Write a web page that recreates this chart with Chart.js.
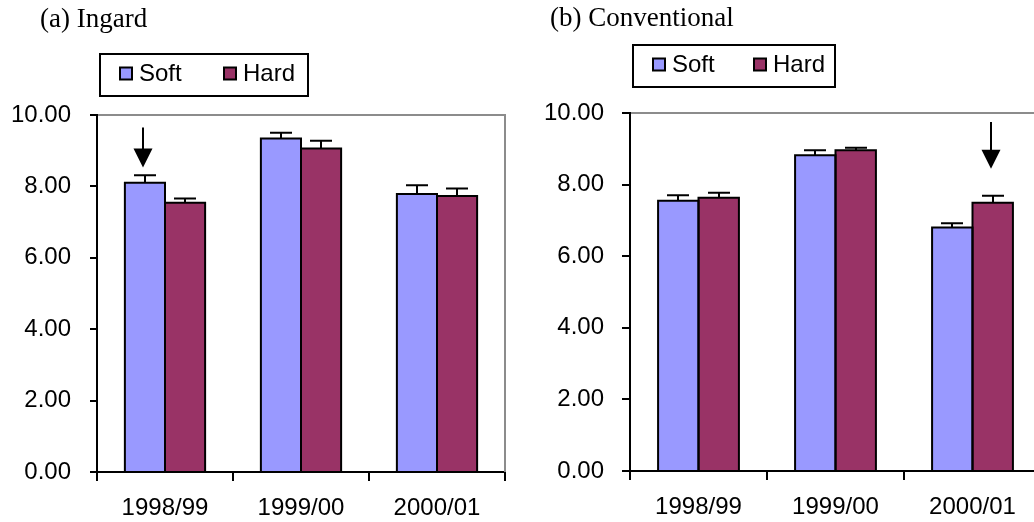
<!DOCTYPE html>
<html>
<head>
<meta charset="utf-8">
<script src="https://cdn.jsdelivr.net/npm/chart.js@4.4.1/dist/chart.umd.min.js"></script>
<style>
  html, body { margin: 0; padding: 0; background: #fff; overflow: hidden; width: 1034px; height: 522px; position: relative; }
  .panel { position: absolute; top: 0; height: 522px; }
  #panelA { left: 0; width: 517px; }
  #panelB { left: 517px; width: 540px; }
</style>
</head>
<body>
<div class="panel" id="panelA"><canvas id="ingard"></canvas></div>
<div class="panel" id="panelB"><canvas id="conventional"></canvas></div>
<script>
// Seasons on the category axis
const seasons = ['1998/99', '1999/00', '2000/01'];
const seriesNames = ['Soft', 'Hard'];

// (a) Ingard: means and standard errors
const ingardSoft = [8.10, 9.34, 7.79];
const ingardHard = [7.54, 9.06, 7.73];
const ingardSoftErr = [0.21, 0.16, 0.24];
const ingardHardErr = [0.12, 0.22, 0.21];

// (b) Conventional: means and standard errors
const convSoft = [7.55, 8.82, 6.80];
const convHard = [7.63, 8.96, 7.49];
const convSoftErr = [0.15, 0.14, 0.12];
const convHardErr = [0.14, 0.07, 0.20];

// Value axis
const yMin = 0;
const yMax = 10;
const yStep = 2;

// Arrows marking a bar: series index, season index, top and tip values
const ingardArrows = [{ series: 0, season: 0, from: 9.65, to: 8.53 }];
const convArrows = [{ series: 1, season: 2, from: 9.75, to: 8.44 }];

const SOFT_COLOR = '#9999FF';
const HARD_COLOR = '#993366';
const SANS = '"Liberation Sans", Arial, sans-serif';
const SERIF = '"Liberation Serif", "Times New Roman", serif';

// Draws the panel frame, bar outlines, error bars, arrows, the boxed legend and the panel title
const panelDecor = {
  id: 'panelDecor',
  beforeDatasetsDraw(chart, args, opts) {
    const { ctx, chartArea: a } = chart;
    ctx.save();
    ctx.strokeStyle = '#8c8c8c';
    ctx.lineWidth = 2;
    ctx.beginPath();
    ctx.moveTo(a.left + 1, a.top);
    ctx.lineTo(a.right, a.top);
    if (opts.frameRight) ctx.lineTo(a.right, a.bottom);
    ctx.stroke();
    ctx.restore();
  },
  afterDatasetsDraw(chart) {
    const { ctx } = chart;
    const yScale = chart.scales.y;
    ctx.save();
    ctx.strokeStyle = '#000';
    ctx.lineWidth = 2;
    chart.data.datasets.forEach((ds, di) => {
      const meta = chart.getDatasetMeta(di);
      meta.data.forEach((bar, i) => {
        // outline of the bar, centred on its edges
        const l = bar.x - bar.width / 2;
        const r = bar.x + bar.width / 2;
        ctx.beginPath();
        ctx.moveTo(l, bar.base);
        ctx.lineTo(l, bar.y);
        ctx.lineTo(r, bar.y);
        ctx.lineTo(r, bar.base);
        ctx.stroke();
        // upper error bar with cap
        const yTop = yScale.getPixelForValue(ds.data[i] + ds.errors[i]);
        const x = Math.round(bar.x);
        ctx.beginPath();
        ctx.moveTo(x, bar.y);
        ctx.lineTo(x, yTop);
        ctx.moveTo(x - 11, yTop);
        ctx.lineTo(x + 11, yTop);
        ctx.stroke();
      });
    });
    ctx.restore();
  },
  afterDraw(chart, args, opts) {
    const { ctx } = chart;
    const yScale = chart.scales.y;
    ctx.save();

    // arrows
    (opts.arrows || []).forEach(ar => {
      const bar = chart.getDatasetMeta(ar.series).data[ar.season];
      const x = Math.round(bar.x) - 2;
      const yFrom = yScale.getPixelForValue(ar.from);
      const yTip = yScale.getPixelForValue(ar.to);
      const head = 19;
      ctx.strokeStyle = '#000';
      ctx.fillStyle = '#000';
      ctx.lineWidth = 2;
      ctx.beginPath();
      ctx.moveTo(x, yFrom);
      ctx.lineTo(x, yTip - head + 1);
      ctx.stroke();
      ctx.beginPath();
      ctx.moveTo(x - head / 2, yTip - head);
      ctx.lineTo(x + head / 2, yTip - head);
      ctx.lineTo(x, yTip);
      ctx.closePath();
      ctx.fill();
    });

    // boxed legend
    const lg = opts.legend;
    ctx.strokeStyle = '#000';
    ctx.lineWidth = 2;
    ctx.strokeRect(lg.x + 1, lg.y + 1, lg.w - 2, lg.h - 2);
    const mid = lg.y + lg.h / 2;
    ctx.font = '24px ' + SANS;
    ctx.textBaseline = 'alphabetic';
    ctx.textAlign = 'left';
    chart.data.datasets.forEach((ds, di) => {
      const bx = lg.x + lg.itemX[di];
      ctx.fillStyle = ds.backgroundColor;
      ctx.fillRect(bx + 1, mid - 7.5, 12, 12);
      ctx.strokeStyle = '#000';
      ctx.strokeRect(bx + 1, mid - 7.5, 12, 12);
      ctx.fillStyle = '#000';
      ctx.fillText(ds.label, bx + 20, mid + 6);
    });

    // panel title
    ctx.font = '27px ' + SERIF;
    ctx.fillStyle = '#000';
    ctx.fillText(opts.title, opts.titleX, opts.titleY);
    ctx.restore();
  }
};

function makePanel(canvasId, soft, hard, softErr, hardErr, arrows, geom) {
  return new Chart(document.getElementById(canvasId), {
    type: 'bar',
    data: {
      labels: seasons,
      datasets: [
        { label: seriesNames[0], data: soft, errors: softErr, backgroundColor: SOFT_COLOR, borderWidth: 0 },
        { label: seriesNames[1], data: hard, errors: hardErr, backgroundColor: HARD_COLOR, borderWidth: 0 }
      ]
    },
    options: {
      responsive: true,
      maintainAspectRatio: false,
      animation: false,
      events: [],
      layout: { padding: { left: 0, right: geom.padRight, top: geom.top, bottom: 0 } },
      datasets: { bar: { barPercentage: 1.0, categoryPercentage: 0.59 } },
      scales: {
        x: {
          type: 'category',
          offset: true,
          afterFit: s => { s.height = geom.xHeight; },
          grid: { display: true, drawOnChartArea: false, drawTicks: true, tickLength: 9,
                  color: '#000', lineWidth: 2, offset: true },
          border: { display: true, color: '#000', width: 2 },
          ticks: { color: '#000', font: { family: SANS, size: 24 }, padding: 13, maxRotation: 0 }
        },
        y: {
          min: yMin,
          max: yMax,
          afterFit: s => { s.width = geom.yWidth; },
          grid: { display: true, drawOnChartArea: false, drawTicks: true, tickLength: geom.tickLen,
                  color: '#000', lineWidth: 2 },
          border: { display: true, color: '#000', width: 2 },
          ticks: { stepSize: yStep, color: '#000', font: { family: SANS, size: 24 },
                   padding: geom.yPad, callback: v => Number(v).toFixed(2) }
        }
      },
      plugins: {
        legend: { display: false },
        tooltip: { enabled: false },
        panelDecor: {
          title: geom.title, titleX: geom.titleX, titleY: geom.titleY,
          frameRight: geom.frameRight,
          arrows: arrows,
          legend: geom.legend
        }
      }
    },
    plugins: [panelDecor]
  });
}

makePanel('ingard', ingardSoft, ingardHard, ingardSoftErr, ingardHardErr, ingardArrows, {
  top: 115, padRight: 12, xHeight: 50, yWidth: 97, tickLen: 7, yPad: 19,
  title: '(a) Ingard', titleX: 40, titleY: 27, frameRight: true,
  legend: { x: 99, y: 53, w: 210, h: 44, itemX: [20, 124] }
});

makePanel('conventional', convSoft, convHard, convSoftErr, convHardErr, convArrows, {
  top: 113, padRight: 16, xHeight: 51, yWidth: 113, tickLen: 8, yPad: 18,
  title: '(b) Conventional', titleX: 33, titleY: 26, frameRight: false,
  legend: { x: 115, y: 44, w: 204, h: 44, itemX: [20, 121] }
});
</script>
</body>
</html>
